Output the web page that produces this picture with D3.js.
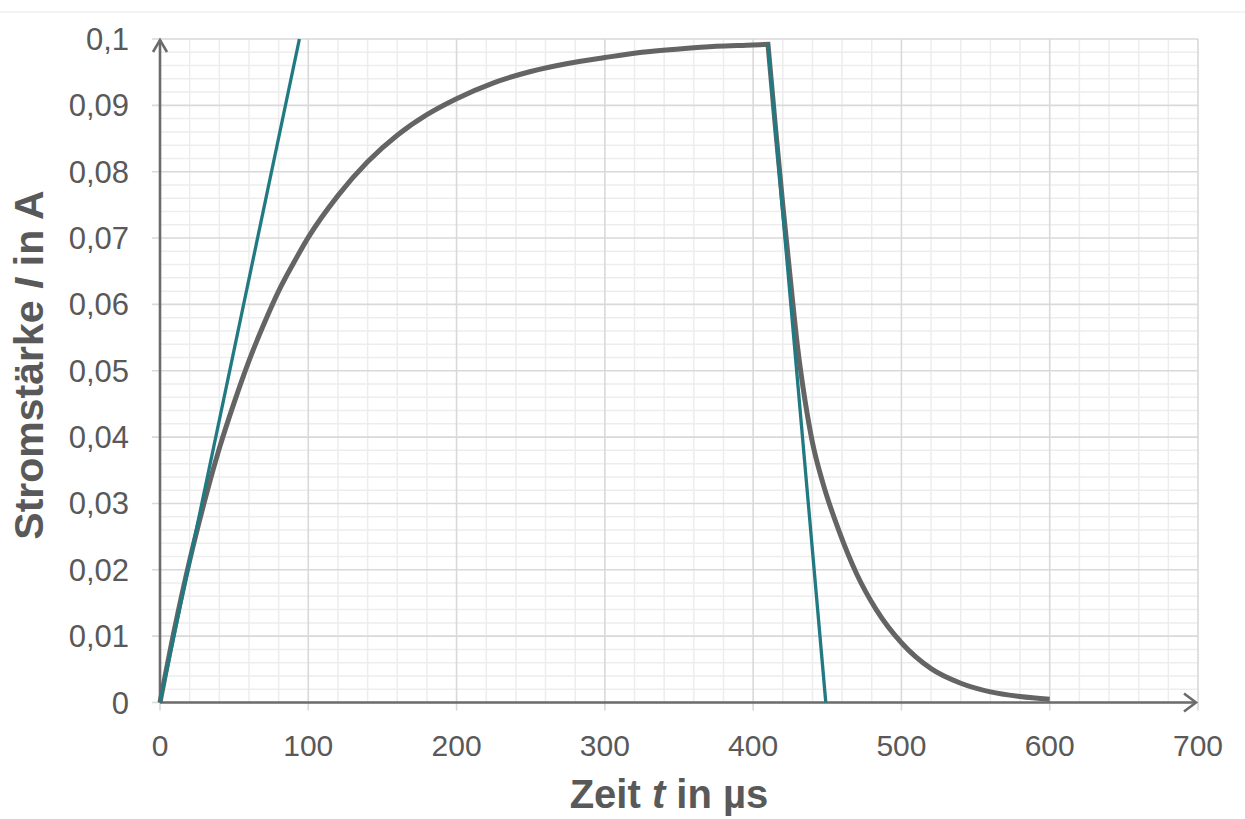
<!DOCTYPE html>
<html>
<head>
<meta charset="utf-8">
<script src="https://cdn.jsdelivr.net/npm/d3@7"></script>
<style>
  body { margin: 0; background: #fff; }
  svg text { font-family: "Liberation Sans", Arial, sans-serif; fill: #595959; }
</style>
</head>
<body>
<div id="chart"></div>
<script>
// values: time in µs, current in A
var chargeT = [0, 10, 20, 30, 40, 50, 60, 70, 80, 90, 100, 120, 140, 160, 180, 200, 225, 250, 275, 300, 325, 350, 375, 400, 410];
var chargeI = [0, 0.0113, 0.0214, 0.0303, 0.0383, 0.0452, 0.0515, 0.057, 0.062, 0.0662, 0.0701, 0.0764, 0.0815, 0.0855, 0.0886, 0.091, 0.0934, 0.0951, 0.0963, 0.0972, 0.098, 0.0985, 0.0989, 0.0991, 0.0992];

var decayT = [410, 415, 420, 425, 430, 435, 440, 447, 458, 470, 483, 500, 520, 540, 560, 580, 600];
var decayI = [0.0992, 0.0868, 0.075, 0.064, 0.0535, 0.0455, 0.0392, 0.0331, 0.0258, 0.0193, 0.014, 0.009, 0.0051, 0.0029, 0.0016, 0.0009, 0.0005];

// the two drawn tangents
var tangentUp = [[0, 0], [94, 0.1]];
var tangentDown = [[410, 0.0992], [449, 0]];

var xTicks = [0, 100, 200, 300, 400, 500, 600, 700];
var yTicks = [0, 0.01, 0.02, 0.03, 0.04, 0.05, 0.06, 0.07, 0.08, 0.09, 0.1];
var yLabels = ["0", "0,01", "0,02", "0,03", "0,04", "0,05", "0,06", "0,07", "0,08", "0,09", "0,1"];

var width = 1245;
var height = 819;

var svg = d3.select("#chart")
    .append("svg")
    .attr("width", width)
    .attr("height", height);

var x = d3.scaleLinear().domain([0, 700]).range([160, 1198]);
var y = d3.scaleLinear().domain([0, 0.1]).range([702.5, 39]);

// faint frame line at the very top of the picture
svg.append("line")
    .attr("x1", 0).attr("x2", width)
    .attr("y1", 12).attr("y2", 12)
    .attr("stroke", "#f1f1f1").attr("stroke-width", 1.5);

// minor grid
var minorX = d3.range(0, 701, 20).filter(function(d) { return d % 100 !== 0; });
var minorY = d3.range(0, 51, 1).map(function(d) { return d * 0.002; })
    .filter(function(d, i) { return i % 5 !== 0; });

var grid = svg.append("g");

grid.selectAll(".mx").data(minorX).enter().append("line")
    .attr("x1", function(d) { return x(d); })
    .attr("x2", function(d) { return x(d); })
    .attr("y1", y(0)).attr("y2", y(0.1))
    .attr("stroke", "#ededed").attr("stroke-width", 1.5);

grid.selectAll(".my").data(minorY).enter().append("line")
    .attr("x1", x(0)).attr("x2", x(700))
    .attr("y1", function(d) { return y(d); })
    .attr("y2", function(d) { return y(d); })
    .attr("stroke", "#ededed").attr("stroke-width", 1.5);

// major grid, sticking out a little past the axes like tick marks
grid.selectAll(".Mx").data(xTicks).enter().append("line")
    .attr("x1", function(d) { return x(d); })
    .attr("x2", function(d) { return x(d); })
    .attr("y1", y(0) + 8).attr("y2", y(0.1))
    .attr("stroke", "#d9d9d9").attr("stroke-width", 1.6);

grid.selectAll(".My").data(yTicks).enter().append("line")
    .attr("x1", x(0) - 8).attr("x2", x(700))
    .attr("y1", function(d) { return y(d); })
    .attr("y2", function(d) { return y(d); })
    .attr("stroke", "#d9d9d9").attr("stroke-width", 1.6);

// tick labels
svg.append("g").selectAll("text").data(xTicks).enter().append("text")
    .attr("x", function(d) { return x(d); })
    .attr("y", 756)
    .attr("text-anchor", "middle")
    .attr("font-size", 30)
    .text(function(d) { return d; });

svg.append("g").selectAll("text").data(yTicks).enter().append("text")
    .attr("x", 129)
    .attr("y", function(d) { return y(d) + 11; })
    .attr("text-anchor", "end")
    .attr("font-size", 31)
    .text(function(d, i) { return yLabels[i]; });

// axes with arrow heads
var axisColor = "#6b6b6b";
svg.append("line")
    .attr("x1", x(0)).attr("x2", 1196)
    .attr("y1", y(0)).attr("y2", y(0))
    .attr("stroke", axisColor).attr("stroke-width", 2.6);
svg.append("path")
    .attr("d", "M1184,693.5L1196," + y(0) + "L1184,711.5")
    .attr("fill", "none").attr("stroke", axisColor).attr("stroke-width", 2.6);

svg.append("line")
    .attr("x1", x(0)).attr("x2", x(0))
    .attr("y1", y(0)).attr("y2", 40)
    .attr("stroke", axisColor).attr("stroke-width", 2.6);
svg.append("path")
    .attr("d", "M" + (x(0) - 7) + ",52L" + x(0) + ",40L" + (x(0) + 7) + ",52")
    .attr("fill", "none").attr("stroke", axisColor).attr("stroke-width", 2.6);

// measured current curve
var line = d3.line()
    .x(function(d) { return x(d[0]); })
    .y(function(d) { return y(d[1]); })
    .curve(d3.curveMonotoneX);

var charge = chargeT.map(function(t, i) { return [t, chargeI[i]]; });
var decay = decayT.map(function(t, i) { return [t, decayI[i]]; });

svg.append("path")
    .attr("d", line(charge) + line(decay).replace("M", "L"))
    .attr("fill", "none")
    .attr("stroke", "#646464")
    .attr("stroke-width", 5)
    .attr("stroke-linejoin", "miter");

// tangents
var straight = d3.line()
    .x(function(d) { return x(d[0]); })
    .y(function(d) { return y(d[1]); });

[tangentUp, tangentDown].forEach(function(seg) {
    svg.append("path")
        .attr("d", straight(seg))
        .attr("fill", "none")
        .attr("stroke", "#217a82")
        .attr("stroke-width", 3.3);
});

// axis titles
svg.append("text")
    .attr("x", 669)
    .attr("y", 808)
    .attr("text-anchor", "middle")
    .attr("font-size", 40)
    .attr("font-weight", "bold")
    .html('Zeit <tspan font-style="italic">t</tspan> in µs');

svg.append("text")
    .attr("transform", "translate(43,365) rotate(-90)")
    .attr("text-anchor", "middle")
    .attr("font-size", 41)
    .attr("font-weight", "bold")
    .html('Stromstärke <tspan font-style="italic">I</tspan> in A');
</script>
</body>
</html>
